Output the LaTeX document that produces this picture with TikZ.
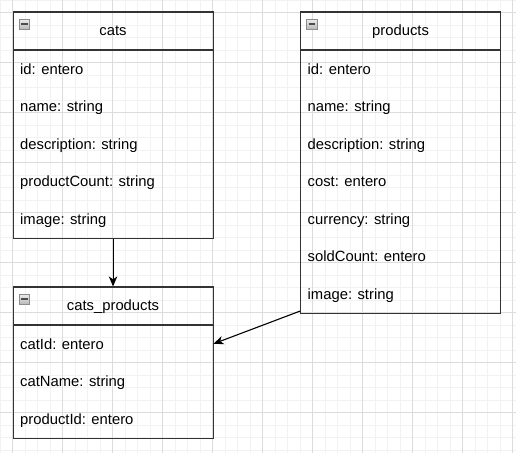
\documentclass[tikz,border=0pt]{standalone}
\usepackage{fontspec}
\setmainfont{Liberation Sans}
\usetikzlibrary{positioning,arrows.meta}
\definecolor{gridminor}{HTML}{F2F2F2}
\definecolor{gridmajor}{HTML}{DCDCDC}
\definecolor{boxline}{HTML}{333333}
\tikzset{
  headbox/.style={draw=boxline, line width=1.1pt, minimum width=200pt, minimum height=37.5pt,
    inner sep=0pt, text height=10.5pt, text depth=0pt, font=\fontsize{14.8pt}{17pt}\selectfont},
  bodybox/.style={draw=boxline, line width=1.1pt, minimum width=200pt, inner sep=0pt},
  field/.style={anchor=west, inner sep=0pt, text height=10.5pt, text depth=0pt,
    font=\fontsize{14.8pt}{17pt}\selectfont},
  minusbox/.style={draw=gray!90, line width=0.6pt, top color=gray!15, bottom color=gray!55,
    minimum width=10.5pt, minimum height=10pt, inner sep=0pt,
    path picture={\draw[line width=1.4pt, black!70] ([xshift=2pt]path picture bounding box.west)
      -- ([xshift=-2pt]path picture bounding box.east);}},
  link/.style={line width=1.1pt, -{Stealth[length=10pt, width=8.5pt, inset=3pt]}}
}
\begin{document}
\begin{tikzpicture}[x=1pt, y=-1pt]
  \useasboundingbox (0,0) rectangle (516,453);
  % grid
  \foreach \x in {0,12.5,...,516} \draw[gridminor, line width=0.8pt] (\x,0) -- (\x,453);
  \foreach \y in {0,12.5,...,453} \draw[gridminor, line width=0.8pt] (0,\y) -- (516,\y);
  \foreach \x in {12.5,62.5,...,516} \draw[gridmajor, line width=0.8pt] (\x,0) -- (\x,453);
  \foreach \y in {12.5,62.5,...,453} \draw[gridmajor, line width=0.8pt] (0,\y) -- (516,\y);

  % cats
  \node[bodybox, minimum height=187.5pt, anchor=north west] (catsB) at (12.5,50) {};
  \node[headbox, above=0pt of catsB] (catsH) {cats};
  \node[minusbox] (catsM) at (24.5,24) {};
  \foreach \f [count=\i] in {id: entero, name: string, description: string,
      productCount: string, image: string}
    \node[field] (cats-\i) at (20,31.25+37.5*\i) {\f};

  % products
  \node[bodybox, minimum height=262.5pt, anchor=north west] (prodB) at (300,50) {};
  \node[headbox, above=0pt of prodB] (prodH) {products};
  \node[minusbox] (prodM) at (312,24) {};
  \foreach \f [count=\i] in {id: entero, name: string, description: string, cost: entero,
      currency: string, soldCount: entero, image: string}
    \node[field] (prod-\i) at (307.5,31.25+37.5*\i) {\f};

  % cats_products
  \node[bodybox, minimum height=112.5pt, anchor=north west] (cpB) at (12.5,325) {};
  \node[headbox, above=0pt of cpB] (cpH) {cats\_products};
  \node[minusbox] (cpM) at (24.5,299) {};
  \foreach \f [count=\i] in {catId: entero, catName: string, productId: entero}
    \node[field] (cp-\i) at (20,306.25+37.5*\i) {\f};

  % links
  \draw[link] (catsB.south) -- (cpH.north);
  \draw[link] ([yshift=2.5pt]prodB.south west) -- (cpB.east |- cp-1);
\end{tikzpicture}
\end{document}
